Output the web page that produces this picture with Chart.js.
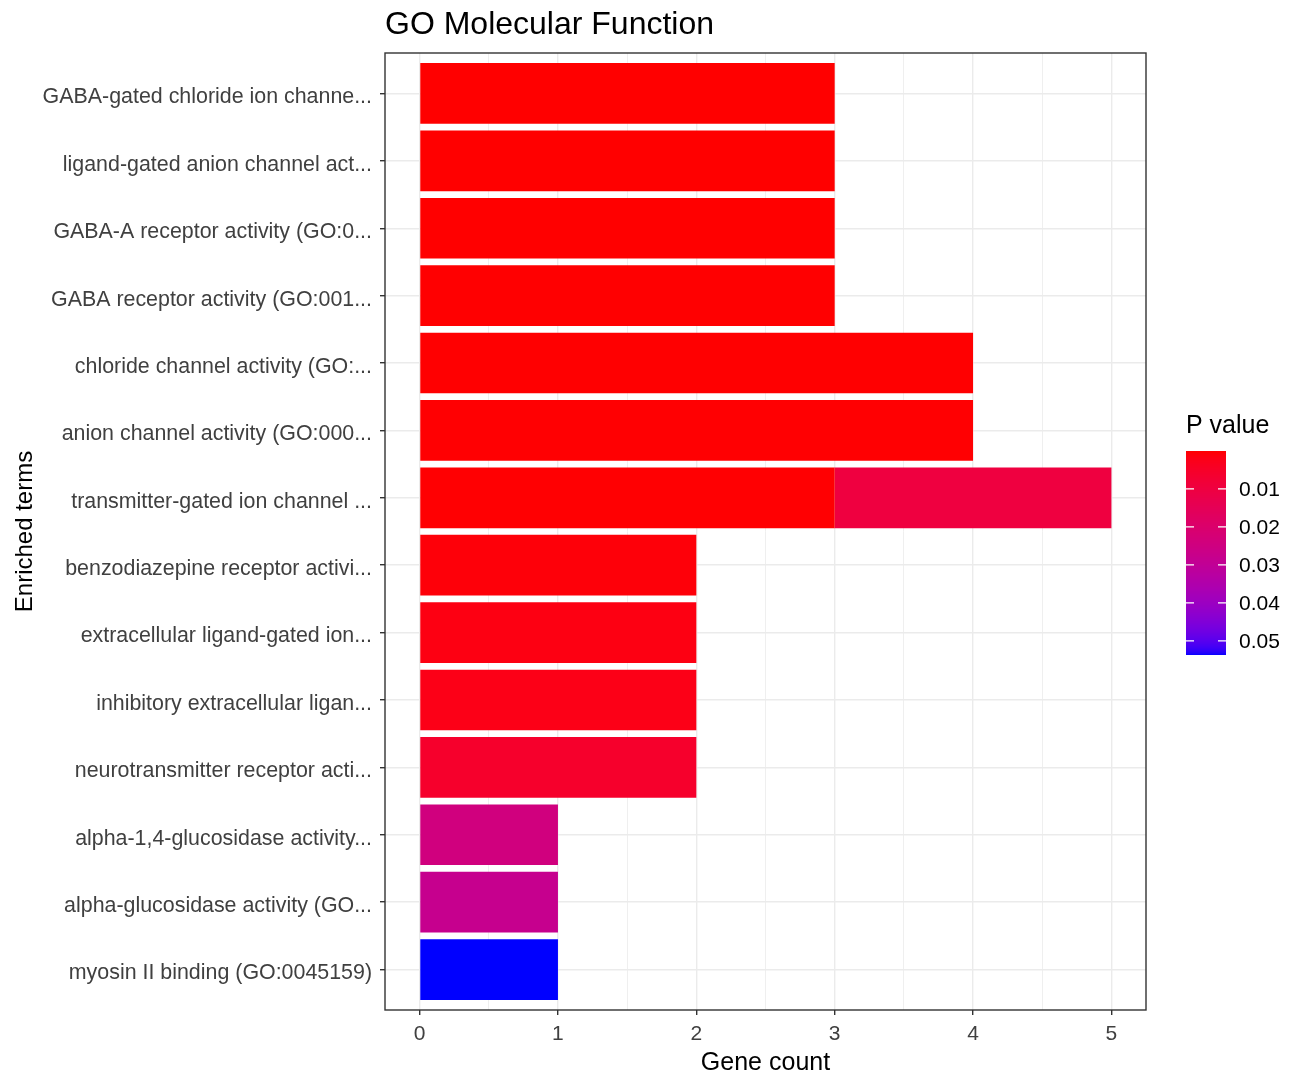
<!DOCTYPE html>
<html>
<head>
<meta charset="utf-8">
<script src="https://cdn.jsdelivr.net/npm/chart.js@4/dist/chart.umd.min.js"></script>
<style>
  html, body { margin: 0; padding: 0; background: #ffffff; }
  #wrap { width: 1296px; height: 1078px; position: relative; }
</style>
</head>
<body>
<div id="wrap"><canvas id="c" width="1296" height="1078"></canvas></div>
<script>
// ---------------- data ----------------
const chartTitle = "GO Molecular Function";
const xTitle = "Gene count";
const yTitle = "Enriched terms";
const legendTitle = "P value";

const categories = [
  "GABA-gated chloride ion channe...",
  "ligand-gated anion channel act...",
  "GABA-A receptor activity (GO:0...",
  "GABA receptor activity (GO:001...",
  "chloride channel activity (GO:...",
  "anion channel activity (GO:000...",
  "transmitter-gated ion channel ...",
  "benzodiazepine receptor activi...",
  "extracellular ligand-gated ion...",
  "inhibitory extracellular ligan...",
  "neurotransmitter receptor acti...",
  "alpha-1,4-glucosidase activity...",
  "alpha-glucosidase activity (GO...",
  "myosin II binding (GO:0045159)"
];
const geneCounts = [3, 3, 3, 3, 4, 4, 3, 2, 2, 2, 2, 1, 1, 1];
const pValues = [0.00001, 0.00003, 0.00005, 0.00008, 0.00012, 0.00018, 0.0002, 0.0008, 0.0016, 0.0022, 0.0058, 0.0243, 0.0282, 0.0537];
// second (stacked) segment rows of the same term
const extraCounts = [null, null, null, null, null, null, 2, null, null, null, null, null, null, null];
const extraPValues = [null, null, null, null, null, null, 0.0099, null, null, null, null, null, null, null];

const xTickValues = [0, 1, 2, 3, 4, 5];
const legendTicks = [0.01, 0.02, 0.03, 0.04, 0.05];

// ---------------- colour scale (Lab interpolation red -> blue) ----------------
const lowColor = [255, 0, 0];
const highColor = [0, 0, 255];
const allP = pValues.concat(extraPValues.filter(v => v !== null));
const pMin = Math.min(...allP);
const pMax = Math.max(...allP);

function toLin(c) { c /= 255; return c <= 0.04045 ? c / 12.92 : Math.pow((c + 0.055) / 1.055, 2.4); }
function toS(c) { c = c <= 0.0031308 ? 12.92 * c : 1.055 * Math.pow(c, 1 / 2.4) - 0.055; return Math.round(Math.max(0, Math.min(1, c)) * 255); }
const WX = 0.95047, WY = 1.0, WZ = 1.08883;
function f(t) { return t > 216 / 24389 ? Math.cbrt(t) : (24389 / 27 * t + 16) / 116; }
function finv(t) { const t3 = t * t * t; return t3 > 216 / 24389 ? t3 : (116 * t - 16) / (24389 / 27); }
function rgb2lab(rgb) {
  const r = toLin(rgb[0]), g = toLin(rgb[1]), b = toLin(rgb[2]);
  const X = 0.4124564 * r + 0.3575761 * g + 0.1804375 * b;
  const Y = 0.2126729 * r + 0.7151522 * g + 0.0721750 * b;
  const Z = 0.0193339 * r + 0.1191920 * g + 0.9503041 * b;
  const fx = f(X / WX), fy = f(Y / WY), fz = f(Z / WZ);
  return [116 * fy - 16, 500 * (fx - fy), 200 * (fy - fz)];
}
function lab2rgb(lab) {
  const fy = (lab[0] + 16) / 116, fx = fy + lab[1] / 500, fz = fy - lab[2] / 200;
  const X = WX * finv(fx), Y = WY * finv(fy), Z = WZ * finv(fz);
  const r = 3.2404542 * X - 1.5371385 * Y - 0.4985314 * Z;
  const g = -0.9692660 * X + 1.8760108 * Y + 0.0415560 * Z;
  const b = 0.0556434 * X - 0.2040259 * Y + 1.0572252 * Z;
  return [toS(r), toS(g), toS(b)];
}
const labLow = rgb2lab(lowColor), labHigh = rgb2lab(highColor);
function colorFor(p) {
  if (p === null || p === undefined) return 'rgba(0,0,0,0)';
  let t = (p - pMin) / (pMax - pMin);
  t = Math.max(0, Math.min(1, t));
  const lab = [0, 1, 2].map(i => labLow[i] + (labHigh[i] - labLow[i]) * t);
  const c = lab2rgb(lab);
  return `rgb(${c[0]},${c[1]},${c[2]})`;
}

// ---------------- layout ----------------
const FONT = "'Liberation Sans', Arial, Helvetica, sans-serif";
const panelLeft = 385, panelRight = 1146, panelTop = 53, panelBottom = 1010;
const W = 1296, H = 1078;

const mainData = categories.map((c, i) => ({ x: geneCounts[i], y: i }));
const extraData = categories.map((c, i) => extraCounts[i] === null ? null : ({ x: extraCounts[i], y: i })).filter(d => d !== null);
const extraColors = extraPValues.filter(v => v !== null).map(colorFor);

const panelBorder = {
  id: 'panelBorder',
  afterDatasetsDraw(chart) {
    const { ctx, chartArea: a } = chart;
    ctx.save();
    ctx.strokeStyle = '#333333';
    ctx.lineWidth = 1.4;
    ctx.strokeRect(a.left, a.top, a.right - a.left, a.bottom - a.top);
    ctx.restore();
  }
};

const colorbar = {
  id: 'colorbar',
  afterDraw(chart) {
    const ctx = chart.ctx;
    const bx = 1186, by = 451, bw = 40, bh = 204;
    ctx.save();
    ctx.fillStyle = '#000000';
    ctx.font = `25px ${FONT}`;
    ctx.textAlign = 'left';
    ctx.textBaseline = 'middle';
    ctx.fillText(legendTitle, 1186, 426);
    for (let i = 0; i < bh; i++) {
      const p = pMin + (pMax - pMin) * (i + 0.5) / bh;
      ctx.fillStyle = colorFor(p);
      ctx.fillRect(bx, by + i, bw, 1);
    }
    ctx.font = `21px ${FONT}`;
    ctx.textBaseline = 'middle';
    legendTicks.forEach(v => {
      const y = by + (v - pMin) / (pMax - pMin) * bh;
      ctx.strokeStyle = '#ffffff';
      ctx.lineWidth = 1.2;
      ctx.beginPath();
      ctx.moveTo(bx, y); ctx.lineTo(bx + 8, y);
      ctx.moveTo(bx + bw - 8, y); ctx.lineTo(bx + bw, y);
      ctx.stroke();
      ctx.fillStyle = '#000000';
      ctx.fillText(v.toFixed(2), 1239, y + 1);
    });
    ctx.restore();
  }
};

new Chart(document.getElementById('c'), {
  type: 'bar',
  data: {
    datasets: [
      {
        label: 'count',
        data: mainData,
        backgroundColor: pValues.map(colorFor),
        borderWidth: 0,
        categoryPercentage: 0.9,
        barPercentage: 1.0
      },
      {
        label: 'count2',
        data: extraData,
        backgroundColor: extraColors,
        borderWidth: 0,
        categoryPercentage: 0.9,
        barPercentage: 1.0
      }
    ]
  },
  plugins: [panelBorder, colorbar],
  options: {
    indexAxis: 'y',
    responsive: false,
    animation: false,
    devicePixelRatio: 1,
    layout: { padding: { left: 0, top: 0, right: W - panelRight, bottom: 0 } },
    plugins: {
      legend: { display: false },
      tooltip: { enabled: false },
      title: {
        display: true,
        text: chartTitle,
        align: 'start',
        fullSize: false,
        color: '#000000',
        font: { family: FONT, size: 32, weight: 'normal', lineHeight: 1.2 },
        padding: { top: 6, bottom: 8.6 }
      }
    },
    scales: {
      x: {
        type: 'linear',
        stacked: true,
        min: -0.25,
        max: 5.25,
        afterBuildTicks(scale) {
          const t = [];
          xTickValues.forEach((v, i) => {
            t.push({ value: v });
            if (i < xTickValues.length - 1) t.push({ value: (v + xTickValues[i + 1]) / 2 });
          });
          scale.ticks = t;
        },
        afterFit(scale) { scale.height = H - panelBottom; },
        border: { display: false },
        grid: {
          color: '#EBEBEB',
          lineWidth: ctx => (ctx.tick && Number.isInteger(ctx.tick.value)) ? 1.4 : 0.8,
          tickColor: ctx => (ctx.tick && Number.isInteger(ctx.tick.value)) ? '#333333' : 'rgba(0,0,0,0)',
          tickWidth: 1.4,
          tickLength: 5,
          drawTicks: true
        },
        ticks: {
          autoSkip: false,
          maxRotation: 0,
          color: '#404040',
          font: { family: FONT, size: 21 },
          padding: 7,
          callback: v => Number.isInteger(v) ? String(v) : ''
        },
        title: {
          display: true,
          text: xTitle,
          color: '#000000',
          font: { family: FONT, size: 25, lineHeight: 1.2 },
          padding: { top: 0, bottom: 0 }
        }
      },
      y: {
        type: 'linear',
        stacked: true,
        reverse: true,
        offset: false,
        min: -0.6,
        max: categories.length - 1 + 0.6,
        afterBuildTicks(scale) { scale.ticks = categories.map((c, i) => ({ value: i })); },
        afterFit(scale) { scale.width = panelLeft; },
        border: { display: false },
        grid: {
          offset: false,
          color: '#EBEBEB',
          lineWidth: 1.4,
          tickColor: '#333333',
          tickWidth: 1.4,
          tickLength: 5,
          drawTicks: true
        },
        ticks: {
          autoSkip: false,
          color: '#404040',
          font: { family: FONT, size: 21.4 },
          padding: 8,
          labelOffset: 4,
          callback: v => categories[v] !== undefined ? categories[v] : ''
        },
        title: {
          display: true,
          text: yTitle,
          color: '#000000',
          font: { family: FONT, size: 24, lineHeight: 1.2 },
          padding: { top: 11, bottom: 0 }
        }
      }
    }
  }
});
</script>
</body>
</html>
